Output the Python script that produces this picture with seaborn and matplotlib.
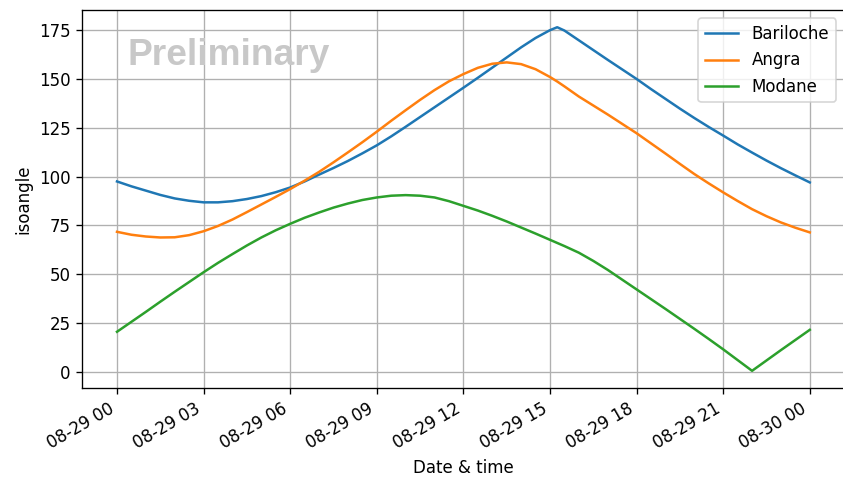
import matplotlib
matplotlib.use("Agg")
import matplotlib.pyplot as plt
import matplotlib.dates as mdates
import pandas as pd
import seaborn as sns

# Hours after midnight on 29 August
hours = [0, 0.5, 1, 1.5, 2, 2.5, 3, 3.5, 4, 4.5, 5, 5.5, 6, 6.5, 7, 7.5,
         8, 8.5, 9, 9.5, 10, 10.5, 11, 11.5, 12, 12.5, 13, 13.5, 14, 14.5,
         15, 15.25, 15.5, 16, 16.5, 17, 17.5, 18, 18.5, 19, 19.5, 20, 20.5,
         21, 21.5, 22, 22.5, 23, 23.5, 24]

bariloche = [97.5, 95.0, 92.8, 90.6, 88.8, 87.6, 86.8, 86.8, 87.4, 88.5,
             90.0, 92.0, 94.4, 97.5, 101.0, 104.4, 108.0, 111.9, 116.0, 120.6,
             125.5, 130.5, 135.5, 140.5, 145.5, 150.6, 155.8, 161.0, 166.2, 171.0,
             175.0, 176.5, 174.8, 169.8, 164.8, 159.8, 154.9, 150.0, 144.8, 139.8,
             134.8, 130.0, 125.4, 121.0, 116.5, 112.3, 108.2, 104.3, 100.6, 97.0]

angra = [71.7, 70.2, 69.3, 68.8, 68.9, 70.0, 72.0, 74.7, 78.0, 81.8,
         85.7, 89.6, 93.6, 97.9, 102.4, 107.3, 112.4, 117.6, 123.0, 128.6,
         134.0, 139.3, 144.3, 148.8, 152.5, 155.7, 157.8, 158.5, 157.6, 155.0,
         151.0, 148.7, 146.2, 141.0, 136.4, 131.8, 127.0, 122.2, 117.0, 111.8,
         106.5, 101.3, 96.5, 91.9, 87.5, 83.3, 79.7, 76.5, 73.8, 71.4]

modane = [20.5, 25.6, 30.7, 35.9, 41.0, 46.0, 51.0, 55.8, 60.3, 64.7,
          68.8, 72.5, 75.8, 78.9, 81.6, 84.1, 86.2, 88.0, 89.3, 90.2,
          90.5, 90.2, 89.3, 87.4, 85.0, 82.6, 79.9, 77.0, 73.9, 70.8,
          67.6, 66.0, 64.4, 61.0, 56.8, 52.2, 47.2, 42.2, 37.2, 32.2,
          27.1, 22.0, 16.8, 11.5, 6.0, 0.5, 5.8, 11.1, 16.3, 21.5]

sites = ["Bariloche", "Angra", "Modane"]
colors = ["#1f77b4", "#ff7f0e", "#2ca02c"]

start = pd.Timestamp("2023-08-29 00:00")
times = [start + pd.Timedelta(hours=h) for h in hours]

fig = plt.figure(figsize=(843 / 120, 479 / 120), dpi=120)
ax = fig.add_axes([0.0977, 0.19, 0.904, 0.789])

for name, vals, col in zip(sites, [bariloche, angra, modane], colors):
    df = pd.DataFrame({"time": times, "isoangle": vals})
    sns.lineplot(data=df, x="time", y="isoangle", ax=ax, color=col,
                 label=name, linewidth=1.5)

ax.grid(True, color="#b0b0b0", linewidth=0.8)
ax.xaxis.set_major_locator(mdates.HourLocator(byhour=range(0, 24, 3)))
ax.xaxis.set_major_formatter(mdates.DateFormatter("%m-%d %H"))
for lbl in ax.get_xticklabels():
    lbl.set_rotation(30)
    lbl.set_ha("right")

ax.set_xlabel("Date & time")
ax.set_ylabel("isoangle")
ax.legend(loc="upper right")

ax.text(0.059, 0.855, "Preliminary", transform=ax.transAxes,
        fontsize=22.3, fontweight="bold", color="#c8c8c8",
        family="Liberation Sans", va="baseline", ha="left")

fig.savefig("out.png", dpi=120)
